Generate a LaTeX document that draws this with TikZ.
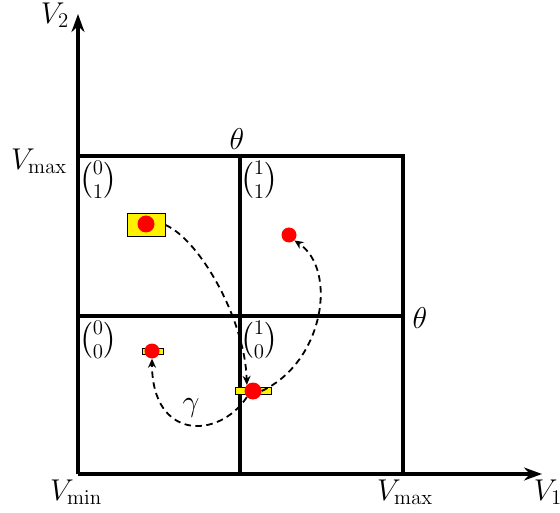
\documentclass[tikz,border=0pt]{standalone}
\usepackage{amsmath}
\usetikzlibrary{arrows.meta}
\newcommand{\biglbl}[1]{\scalebox{1.45}{#1}}
\tikzset{
  gridline/.style={line width=3.2pt},
  axisline/.style={line width=3.2pt, -{Stealth[length=18pt,width=13pt]}},
  reddot/.style={circle, fill=red, inner sep=0pt, minimum size=#1},
  yellowbox/.style={draw, fill=yellow, line width=1pt, inner sep=0pt},
  flow/.style={line width=1.8pt, dash pattern=on 6.5pt off 4.5pt, -{Stealth[length=9pt,width=8pt]}}
}
\begin{document}
\begin{tikzpicture}[x=1pt, y=-1pt, font=\huge, inner sep=0pt]
    \useasboundingbox (0,0) rectangle (560,513);
    % Axes
    \coordinate (origin) at (78,474);
    \coordinate (v1end) at (542,474);
    \coordinate (v2end) at (78,14);
    \draw[axisline] (origin) -- (v1end);
    \draw[axisline] (origin) -- (v2end);

    % Grid
    \draw[gridline] (78,156) -- (403,156) -- (403,474);
    \draw[gridline] (78,316) -- (403,316);
    \draw[gridline] (240,156) -- (240,474);

    % Axis labels
    \node (v2) at (55,15) {\biglbl{$V_2$}};
    \node (v1) at (548,492) {\biglbl{$V_1$}};
    \node (vmaxl) at (39,161) {\biglbl{$V_{\max}$}};
    \node (vmin) at (76,492) {\biglbl{$V_{\min}$}};
    \node (vmaxb) at (405,492) {\biglbl{$V_{\max}$}};
    \node (thetatop) at (237,139) {\biglbl{$\theta$}};
    \node (thetaright) at (420,318) {\biglbl{$\theta$}};

    % Cell labels
    \node (c01) at (98,180) {\biglbl{$\binom{0}{1}$}};
    \node (c11) at (259,180) {\biglbl{$\binom{1}{1}$}};
    \node (c00) at (98,340) {\biglbl{$\binom{0}{0}$}};
    \node (c10) at (259,340) {\biglbl{$\binom{1}{0}$}};

    % States
    \node[yellowbox, minimum width=38pt, minimum height=23pt] (boxA) at (146,225) {};
    \node[reddot=17pt] (dotA) at (146,224) {};
    \node[reddot=15pt] (dotC) at (289,235) {};
    \node[yellowbox, minimum width=21pt, minimum height=6pt] (barD) at (153,351) {};
    \node[reddot=15pt] (dotD) at (152,351) {};
    \node[yellowbox, minimum width=36pt, minimum height=7pt] (barB) at (253,391) {};
    \node[reddot=17pt] (dotB) at (253,391) {};

    % Arrows
    \draw[flow] (boxA.east) .. controls (200,240) and (245,320) .. (dotB.north west);
    \draw[flow] (dotB.east) .. controls (324,362) and (338,270) .. (dotC.south east);
    \draw[flow] (dotB.south west) .. controls (218,440) and (152,440) .. (dotD.south);
    \node (gamma) at (191,408) {\biglbl{$\gamma$}};
\end{tikzpicture}
\end{document}
